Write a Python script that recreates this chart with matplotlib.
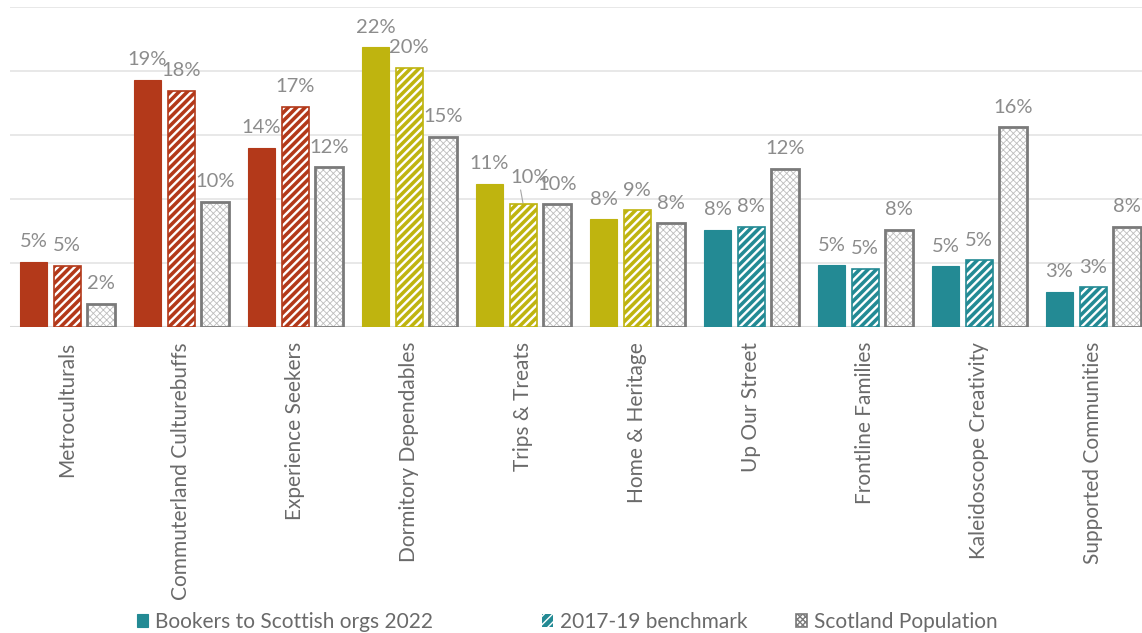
import matplotlib
matplotlib.use("Agg")
import matplotlib.pyplot as plt
from matplotlib.patches import Patch
import numpy as np

plt.rcParams['font.family'] = ['Lato', 'DejaVu Sans']

categories = ["Metroculturals", "Commuterland Culturebuffs", "Experience Seekers",
              "Dormitory Dependables", "Trips & Treats", "Home & Heritage",
              "Up Our Street", "Frontline Families", "Kaleidoscope Creativity",
              "Supported Communities"]
series_names = ["Bookers to Scottish orgs 2022", "2017-19 benchmark", "Scotland Population"]
bookers_2022 = [5.05, 19.27, 13.98, 21.83, 11.17, 8.39, 7.55, 4.80, 4.72, 2.73]
benchmark_2017_19 = [4.77, 18.44, 17.19, 20.23, 9.56, 9.09, 7.81, 4.53, 5.19, 3.08]
scotland_population = [1.80, 9.74, 12.45, 14.84, 9.56, 8.08, 12.34, 7.55, 15.58, 7.81]

RED, OLIVE, TEAL = "#B3391A", "#BFB40F", "#238A94"
group_colors = [RED] * 3 + [OLIVE] * 3 + [TEAL] * 4
POP_EDGE = "#7a7a7a"
POP_HATCH = "#bdbdbd"
TEXT = "#6a6a6a"
LABEL = "#8c8c8c"

W, H = 1142, 633
fig = plt.figure(figsize=(W / 100, H / 100), dpi=100)
ax = fig.add_axes([10.2 / W, (H - 326.7) / H, (W - 10.2) / W, 320 / H])

x = np.arange(len(categories))
bw = 0.24
off = 0.296


def set_hatch_lw(bars, lw):
    for b in bars:
        if hasattr(b, "set_hatch_linewidth"):
            b.set_hatch_linewidth(lw)


# solid bars
ax.bar(x - off, bookers_2022, bw, color=group_colors, edgecolor=group_colors,
       linewidth=0.8, zorder=3)
# striped bars: white diagonal stripes over the group colour, plus outline
b2 = ax.bar(x, benchmark_2017_19, bw, color=group_colors, edgecolor="white",
            hatch="////", linewidth=0, zorder=3)
set_hatch_lw(b2, 1.7)
ax.bar(x, benchmark_2017_19, bw, fill=False, edgecolor=group_colors,
       linewidth=1.2, zorder=4)
# population bars: fine grey cross-hatch with a dark grey frame
b3 = ax.bar(x + off, scotland_population, bw, color="white", edgecolor=POP_HATCH,
            hatch="xxxxx", linewidth=0, zorder=3)
set_hatch_lw(b3, 0.6)
ax.bar(x + off, scotland_population, bw, fill=False, edgecolor=POP_EDGE,
       linewidth=2.0, zorder=4)

# value labels
label_font = dict(fontsize=14.5, color=LABEL, ha="center", va="baseline")
for i in range(len(categories)):
    for xi, v, s in ((x[i] - off, bookers_2022[i], 0), (x[i], benchmark_2017_19[i], 1),
                     (x[i] + off, scotland_population[i], 2)):
        if categories[i] == "Trips & Treats" and s == 1:
            ax.annotate(f"{v:.0f}%", xy=(xi, v), xytext=(4.7, 15.5),
                        textcoords="offset points",
                        arrowprops=dict(arrowstyle="-", color="#a6a6a6", lw=0.8,
                                        shrinkA=1, shrinkB=1, relpos=(0.25, 0.0)),
                        zorder=5, **label_font)
        else:
            ax.annotate(f"{v:.0f}%", xy=(xi, v), xytext=(0, 10.5),
                        textcoords="offset points", zorder=5, **label_font)

ax.set_xlim(-0.5, -0.5 + (W - 10.2) / 114.0)
ax.set_ylim(0, 25)
ax.set_yticks([5, 10, 15, 20, 25])
ax.yaxis.grid(True, color="#e6e6e6", linewidth=1.3, zorder=0)
ax.axhline(0, color="#d9d9d9", linewidth=1.5, zorder=2)
ax.tick_params(axis="y", left=False, labelleft=False)
ax.set_xticks(x)
ax.set_xticklabels(categories, rotation=90, fontsize=15, color=TEXT)
ax.tick_params(axis="x", length=0, pad=11)
for sp in ax.spines.values():
    sp.set_visible(False)

# legend: one entry per block
handles = [
    Patch(facecolor=TEAL, edgecolor=TEAL, linewidth=0.8),
    Patch(facecolor=TEAL, edgecolor="white", hatch="////", linewidth=0),
    Patch(facecolor="white", edgecolor=POP_EDGE, hatch="xxxxxx", linewidth=1.2),
]
legend_x = [137, 542, 796]
for h, name, lx in zip(handles, series_names, legend_x):
    fig.legend(handles=[h], labels=[name], loc="center left",
               bbox_to_anchor=(lx / W, (H - 622) / H), frameon=False,
               borderpad=0, borderaxespad=0, handlelength=0.55, handleheight=0.55,
               handletextpad=0.3, fontsize=15, labelcolor=TEXT)

fig.savefig("out.png", dpi=100, facecolor="white")
